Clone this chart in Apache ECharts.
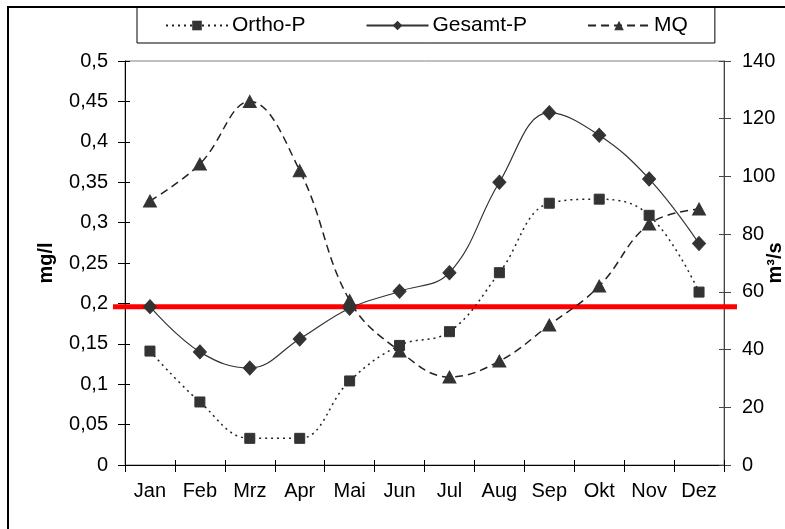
<!DOCTYPE html>
<html>
<head>
<meta charset="utf-8">
<script src="https://cdn.jsdelivr.net/npm/echarts@6/dist/echarts.min.js"></script>
<style>
html,body{margin:0;padding:0;background:#fff;}
#c{width:785px;height:529px;}
</style>
</head>
<body>
<div id="c"></div>
<script>
const months = ['Jan','Feb','Mrz','Apr','Mai','Jun','Jul','Aug','Sep','Okt','Nov','Dez'];
const orthoP = [0.141,0.078,0.033,0.033,0.104,0.148,0.165,0.238,0.324,0.329,0.309,0.214];
const gesamtP = [0.196,0.140,0.120,0.156,0.194,0.215,0.238,0.350,0.436,0.408,0.354,0.274];
const mq = [91.5,104.3,126,102,57,39.5,30.5,36,48.5,62,83.5,88.7];
const threshold = 0.196;
const leftTicks = {min:0, max:0.5, interval:0.05};
const rightTicks = {min:0, max:140, interval:20};

const FONT = 'Liberation Sans, Arial, sans-serif';
const chart = echarts.init(document.getElementById('c'), null, {renderer:'canvas'});
const fmtL = v => String(+v.toFixed(2)).replace('.', ',');

const option = {
  animation:false,
  backgroundColor:'#fff',
  textStyle:{fontFamily:FONT},
  grid:{left:125, right:61, top:61, bottom:64, containLabel:false, outerBoundsMode:'none',
        show:true, borderColor:'#808080', borderWidth:1, backgroundColor:'transparent'},
  legend:{
    left:137, top:7,
    padding:[8,27,7,28],
    borderColor:'#000', borderWidth:1,
    itemWidth:62, itemHeight:12, itemGap:60,
    textStyle:{fontSize:21, color:'#000', fontFamily:FONT, padding:[0,0,0,-1]},
    data:['Ortho-P','Gesamt-P','MQ']
  },
  xAxis:[
    {type:'category', data:months, boundaryGap:true,
     axisLine:{lineStyle:{color:'#000', width:1}},
     axisTick:{show:true, inside:false, length:7, lineStyle:{color:'#000'}},
     axisLabel:{fontSize:20, color:'#000', margin:16, fontFamily:FONT}},
    {type:'category', data:months, boundaryGap:true, position:'bottom',
     axisLine:{show:false},
     axisTick:{show:true, inside:true, length:5, lineStyle:{color:'#000'}},
     axisLabel:{show:false}}
  ],
  yAxis:[
    {type:'value', position:'left', ...leftTicks,
     name:'mg/l', nameLocation:'middle', nameGap:69, nameRotate:90, nameMoveOverlap:false,
     nameTextStyle:{fontSize:20, fontWeight:'bold', color:'#000', fontFamily:FONT},
     axisLine:{show:true, lineStyle:{color:'#000'}},
     axisTick:{show:true, length:7, lineStyle:{color:'#000'}},
     splitLine:{show:false},
     axisLabel:{fontSize:20, color:'#000', margin:17, formatter:fmtL, fontFamily:FONT}},
    {type:'value', position:'right', ...rightTicks,
     name:'m³/s', nameLocation:'middle', nameGap:41, nameRotate:90, nameMoveOverlap:false,
     nameTextStyle:{fontSize:20, fontWeight:'bold', color:'#000', fontFamily:FONT},
     axisLine:{show:true, lineStyle:{color:'#444'}},
     axisTick:{show:true, length:7, lineStyle:{color:'#444'}},
     splitLine:{show:false},
     axisLabel:{fontSize:20, color:'#000', margin:18, fontFamily:FONT}},
    {type:'value', position:'left', ...leftTicks,
     axisLine:{show:false}, axisTick:{show:true, inside:true, length:5, lineStyle:{color:'#000'}},
     splitLine:{show:false}, axisLabel:{show:false}},
    {type:'value', position:'right', ...rightTicks,
     axisLine:{show:false}, axisTick:{show:true, inside:true, length:5, lineStyle:{color:'#444'}},
     splitLine:{show:false}, axisLabel:{show:false}}
  ],
  series:[
    {name:'Ortho-P', type:'line', yAxisIndex:0, data:orthoP, smooth:0.4, z:3,
     symbol:'rect', symbolSize:10,
     itemStyle:{color:'#333', borderColor:'#333'},
     lineStyle:{color:'#222', width:1.5, type:[2,4]}},
    {name:'Gesamt-P', type:'line', yAxisIndex:0, data:gesamtP, smooth:0.4, z:3,
     symbol:'diamond', symbolSize:[13,14],
     itemStyle:{color:'#333', borderColor:'#333'},
     lineStyle:{color:'#333', width:1.2, type:'solid'}},
    {name:'MQ', type:'line', yAxisIndex:1, data:mq, smooth:0.4, z:3,
     symbol:'triangle', symbolSize:[13,12],
     itemStyle:{color:'#333', borderColor:'#333'},
     lineStyle:{color:'#222', width:1.5, type:[8,5]}}
  ]
};
chart.setOption(option);

const yRed = chart.convertToPixel({yAxisIndex:0}, threshold);
chart.setOption({
  graphic:[
    {type:'rect', z:0, silent:true, shape:{x:8, y:7, width:900, height:700},
     style:{fill:'none', stroke:'#000', lineWidth:2}},
    {type:'line', z:1, silent:true, shape:{x1:113, y1:yRed, x2:737, y2:yRed},
     style:{stroke:'#ff0000', lineWidth:5}}
  ]
});
</script>
</body>
</html>
